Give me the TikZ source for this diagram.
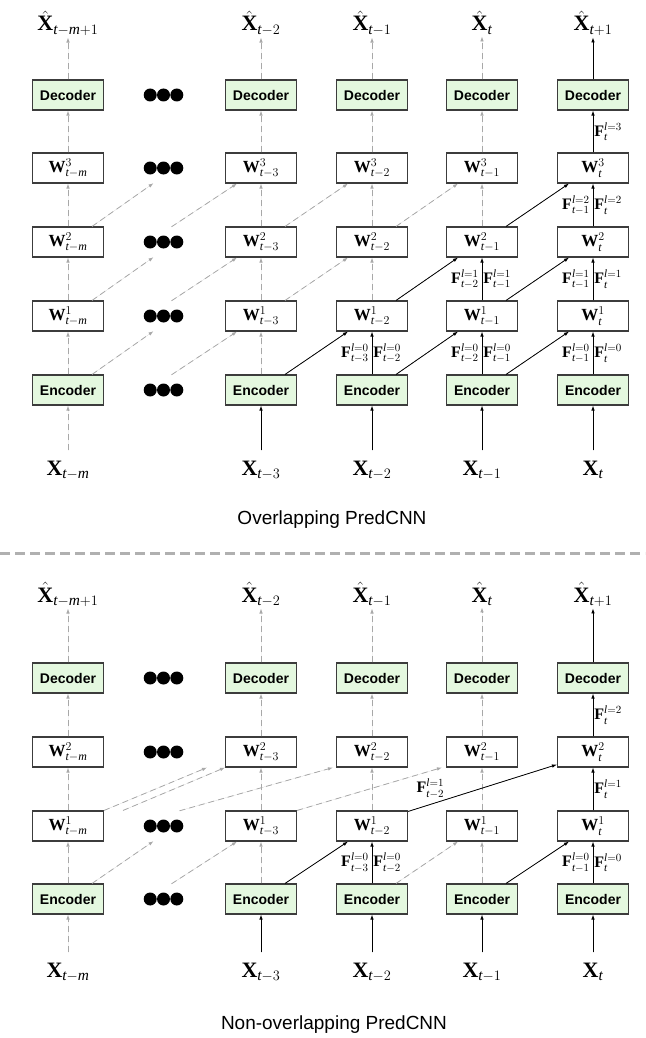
\documentclass[tikz,border=0pt]{standalone}
\usepackage{fontspec}
\setmainfont{Liberation Serif}
\setsansfont{Liberation Sans}
\usetikzlibrary{arrows.meta,calc}

\definecolor{boxgreen}{HTML}{E4F8DF}
\definecolor{boxline}{HTML}{3C3C3C}
\definecolor{ghost}{HTML}{A8A8A8}
\definecolor{rulegray}{HTML}{B0B0B0}

% label helpers
\newcommand{\Tm}{\mathit{t}}
\newcommand{\Mm}{\mathit{m}}
\newcommand{\Xs}[1]{$\mathbf{X}_{#1}$}
\newcommand{\Xh}[1]{$\hat{\mathbf{X}}_{#1}$}
\newcommand{\Wl}[2]{$\mathbf{W}^{#1}_{#2}$}
\newcommand{\Fl}[2]{$\mathbf{F}^{\mathit{l}=#1}_{#2}$}

\tikzset{
  box/.style={draw=boxline, line width=1.1pt, minimum width=71pt, minimum height=30pt, inner sep=0pt, fill=white},
  codec/.style={box, fill=boxgreen, font={\sffamily\bfseries\fontsize{14}{16}\selectfont}},
  wbox/.style={box, font={\fontsize{17}{19}\selectfont}},
  xlab/.style={font={\fontsize{22}{25}\selectfont}, anchor=base, inner sep=2pt},
  flow/.style={line width=0.8pt, -{Latex[length=5pt,width=3.6pt]}},
  live/.style={flow, draw=black, fill=black},
  idle/.style={flow, draw=ghost, fill=ghost, dash pattern=on 6pt off 4pt},
  flab/.style={font={\fontsize{16}{18}\selectfont}, inner sep=1pt},
  ellip/.style={minimum width=40pt, minimum height=30pt, inner sep=0pt},
  caption/.style={font={\sffamily\fontsize{19}{22}\selectfont}},
}

\begin{document}
\begin{tikzpicture}[x=1pt,y=-1pt]
\useasboundingbox (0,0) rectangle (645,1038);

% ---------------- overlapping network ----------------
\foreach \c/\x/\s/\h in {0/68/{\Tm-\Mm}/{\Tm-\Mm+1},2/261/{\Tm-3}/{\Tm-2},3/372/{\Tm-2}/{\Tm-1},4/482/{\Tm-1}/{\Tm},5/593/{\Tm}/{\Tm+1}}{
  \node[xlab] (tH\c) at (\x,31) {\Xh{\h}};
  \node[codec] (tD\c) at (\x,95) {Decoder};
  \node[wbox] (tWc\c) at (\x,168) {\Wl{3}{\s}};
  \node[wbox] (tWb\c) at (\x,242) {\Wl{2}{\s}};
  \node[wbox] (tWa\c) at (\x,316) {\Wl{1}{\s}};
  \node[codec] (tE\c) at (\x,390) {Encoder};
  \node[xlab] (tX\c) at (\x,475) {\Xs{\s}};
}
\foreach \r/\y in {D/95,c/168,b/242,a/316,E/390}
  \node[ellip] (tdot\r) at (163.5,\y) {};

% vertical flows
\draw[idle] ([yshift=8pt]tX0.north) -- (tE0);
\draw[idle] (tE0) -- (tWa0);
\draw[idle] (tWa0) -- (tWb0);
\draw[idle] (tWb0) -- (tWc0);
\draw[idle] (tWc0) -- (tD0);
\draw[idle] (tD0) -- (tH0);

\draw[live] ([yshift=8pt]tX2.north) -- (tE2);
\draw[idle] (tE2) -- (tWa2);
\draw[idle] (tWa2) -- (tWb2);
\draw[idle] (tWb2) -- (tWc2);
\draw[idle] (tWc2) -- (tD2);
\draw[idle] (tD2) -- (tH2);

\draw[live] ([yshift=8pt]tX3.north) -- (tE3);
\draw[live] (tE3) -- (tWa3)
  node[flab,midway,left=2pt]{\Fl{0}{\Tm-3}} node[flab,midway,right=0pt]{\Fl{0}{\Tm-2}};
\draw[idle] (tWa3) -- (tWb3);
\draw[idle] (tWb3) -- (tWc3);
\draw[idle] (tWc3) -- (tD3);
\draw[idle] (tD3) -- (tH3);

\draw[live] ([yshift=8pt]tX4.north) -- (tE4);
\draw[live] (tE4) -- (tWa4)
  node[flab,midway,left=2pt]{\Fl{0}{\Tm-2}} node[flab,midway,right=0pt]{\Fl{0}{\Tm-1}};
\draw[live] (tWa4) -- (tWb4)
  node[flab,midway,left=2pt]{\Fl{1}{\Tm-2}} node[flab,midway,right=0pt]{\Fl{1}{\Tm-1}};
\draw[idle] (tWb4) -- (tWc4);
\draw[idle] (tWc4) -- (tD4);
\draw[idle] (tD4) -- (tH4);

\draw[live] ([yshift=8pt]tX5.north) -- (tE5);
\draw[live] (tE5) -- (tWa5)
  node[flab,midway,left=2pt]{\Fl{0}{\Tm-1}} node[flab,midway,right=0pt]{\Fl{0}{\Tm}};
\draw[live] (tWa5) -- (tWb5)
  node[flab,midway,left=2pt]{\Fl{1}{\Tm-1}} node[flab,midway,right=0pt]{\Fl{1}{\Tm}};
\draw[live] (tWb5) -- (tWc5)
  node[flab,midway,left=2pt]{\Fl{2}{\Tm-1}} node[flab,midway,right=0pt]{\Fl{2}{\Tm}};
\draw[live] (tWc5) -- (tD5)
  node[flab,midway,right=0pt]{\Fl{3}{\Tm}};
\draw[live] (tD5) -- (tH5);

% diagonal flows
\draw[idle] ([xshift=24pt]tE0.north) -- ([xshift=-10pt]tdota.south);
\draw[idle] ([xshift=8pt]tdotE.north) -- ([xshift=-24pt]tWa2.south);
\draw[live] ([xshift=24pt]tE2.north) -- ([xshift=-24pt]tWa3.south);
\draw[live] ([xshift=24pt]tE3.north) -- ([xshift=-24pt]tWa4.south);
\draw[live] ([xshift=24pt]tE4.north) -- ([xshift=-24pt]tWa5.south);

\draw[idle] ([xshift=24pt]tWa0.north) -- ([xshift=-10pt]tdotb.south);
\draw[idle] ([xshift=8pt]tdota.north) -- ([xshift=-24pt]tWb2.south);
\draw[idle] ([xshift=24pt]tWa2.north) -- ([xshift=-24pt]tWb3.south);
\draw[live] ([xshift=24pt]tWa3.north) -- ([xshift=-24pt]tWb4.south);
\draw[live] ([xshift=24pt]tWa4.north) -- ([xshift=-24pt]tWb5.south);

\draw[idle] ([xshift=24pt]tWb0.north) -- ([xshift=-10pt]tdotc.south);
\draw[idle] ([xshift=8pt]tdotb.north) -- ([xshift=-24pt]tWc2.south);
\draw[idle] ([xshift=24pt]tWb2.north) -- ([xshift=-24pt]tWc3.south);
\draw[idle] ([xshift=24pt]tWb3.north) -- ([xshift=-24pt]tWc4.south);
\draw[live] ([xshift=24pt]tWb4.north) -- ([xshift=-24pt]tWc5.south);

\node[caption] (tcap) at (332,520) {Overlapping PredCNN};

% separator
\draw[rulegray, line width=3pt, dash pattern=on 10pt off 5pt] (0,553) -- (645,553);

% ---------------- non-overlapping network ----------------
\foreach \c/\x/\s/\h in {0/68/{\Tm-\Mm}/{\Tm-\Mm+1},2/261/{\Tm-3}/{\Tm-2},3/372/{\Tm-2}/{\Tm-1},4/482/{\Tm-1}/{\Tm},5/593/{\Tm}/{\Tm+1}}{
  \node[xlab] (bH\c) at (\x,602) {\Xh{\h}};
  \node[codec] (bD\c) at (\x,678) {Decoder};
  \node[wbox] (bWb\c) at (\x,752) {\Wl{2}{\s}};
  \node[wbox] (bWa\c) at (\x,826) {\Wl{1}{\s}};
  \node[codec] (bE\c) at (\x,899) {Encoder};
  \node[xlab] (bX\c) at (\x,977) {\Xs{\s}};
}
\foreach \r/\y in {D/678,b/752,a/826,E/899}
  \node[ellip] (bdot\r) at (163.5,\y) {};

% vertical flows
\draw[idle] ([yshift=8pt]bX0.north) -- (bE0);
\draw[idle] (bE0) -- (bWa0);
\draw[idle] (bWa0) -- (bWb0);
\draw[idle] (bWb0) -- (bD0);
\draw[idle] (bD0) -- (bH0);

\draw[live] ([yshift=8pt]bX2.north) -- (bE2);
\draw[idle] (bE2) -- (bWa2);
\draw[idle] (bWa2) -- (bWb2);
\draw[idle] (bWb2) -- (bD2);
\draw[idle] (bD2) -- (bH2);

\draw[live] ([yshift=8pt]bX3.north) -- (bE3);
\draw[live] (bE3) -- (bWa3)
  node[flab,midway,left=2pt]{\Fl{0}{\Tm-3}} node[flab,midway,right=0pt]{\Fl{0}{\Tm-2}};
\draw[idle] (bWa3) -- (bWb3);
\draw[idle] (bWb3) -- (bD3);
\draw[idle] (bD3) -- (bH3);

\draw[live] ([yshift=8pt]bX4.north) -- (bE4);
\draw[idle] (bE4) -- (bWa4);
\draw[idle] (bWa4) -- (bWb4);
\draw[idle] (bWb4) -- (bD4);
\draw[idle] (bD4) -- (bH4);

\draw[live] ([yshift=8pt]bX5.north) -- (bE5);
\draw[live] (bE5) -- (bWa5)
  node[flab,midway,left=2pt]{\Fl{0}{\Tm-1}} node[flab,midway,right=0pt]{\Fl{0}{\Tm}};
\draw[live] (bWa5) -- (bWb5)
  node[flab,midway,right=0pt]{\Fl{1}{\Tm}};
\draw[live] (bWb5) -- (bD5)
  node[flab,midway,right=0pt]{\Fl{2}{\Tm}};
\draw[live] (bD5) -- (bH5);

% diagonal flows, first layer
\draw[idle] ([xshift=24pt]bE0.north) -- ([xshift=-10pt]bdota.south);
\draw[idle] ([xshift=8pt]bdotE.north) -- ([xshift=-24pt]bWa2.south);
\draw[live] ([xshift=24pt]bE2.north) -- ([xshift=-24pt]bWa3.south);
\draw[idle] ([xshift=24pt]bE3.north) -- ([xshift=-24pt]bWa4.south);
\draw[live] ([xshift=24pt]bE4.north) -- ([xshift=-24pt]bWa5.south);

% diagonal flows, second layer (stride two)
\coordinate (bq1) at ([xshift=-18pt]bWb2.south west);
\coordinate (bq2) at ([xshift=19pt]bWa0.north east);
\draw[idle] (bWa0.north east) -- (bq1);
\draw[idle] (bq2) -- (bWb2.south west);
\draw[idle] ([xshift=16pt]bdota.north) -- ([xshift=-3pt]bWb3.south west);
\draw[idle] (bWa2.north east) -- ([xshift=-4pt]bWb4.south west);
\draw[live] ([yshift=-1pt]bWa3.north east) -- ([yshift=3pt]bWb5.south west)
  node[flab,pos=0.15,above=5pt]{\Fl{1}{\Tm-2}};

\node[caption] (bcap) at (334,1025) {Non-overlapping PredCNN};

% ellipsis dots
\foreach \n in {tdotD,tdotc,tdotb,tdota,tdotE,bdotD,bdotb,bdota,bdotE}
  \foreach \dx in {-13.3,0,13.3}
    \fill[black] ([xshift=\dx pt]\n.center) circle[radius=6.5pt];
\end{tikzpicture}
\end{document}
